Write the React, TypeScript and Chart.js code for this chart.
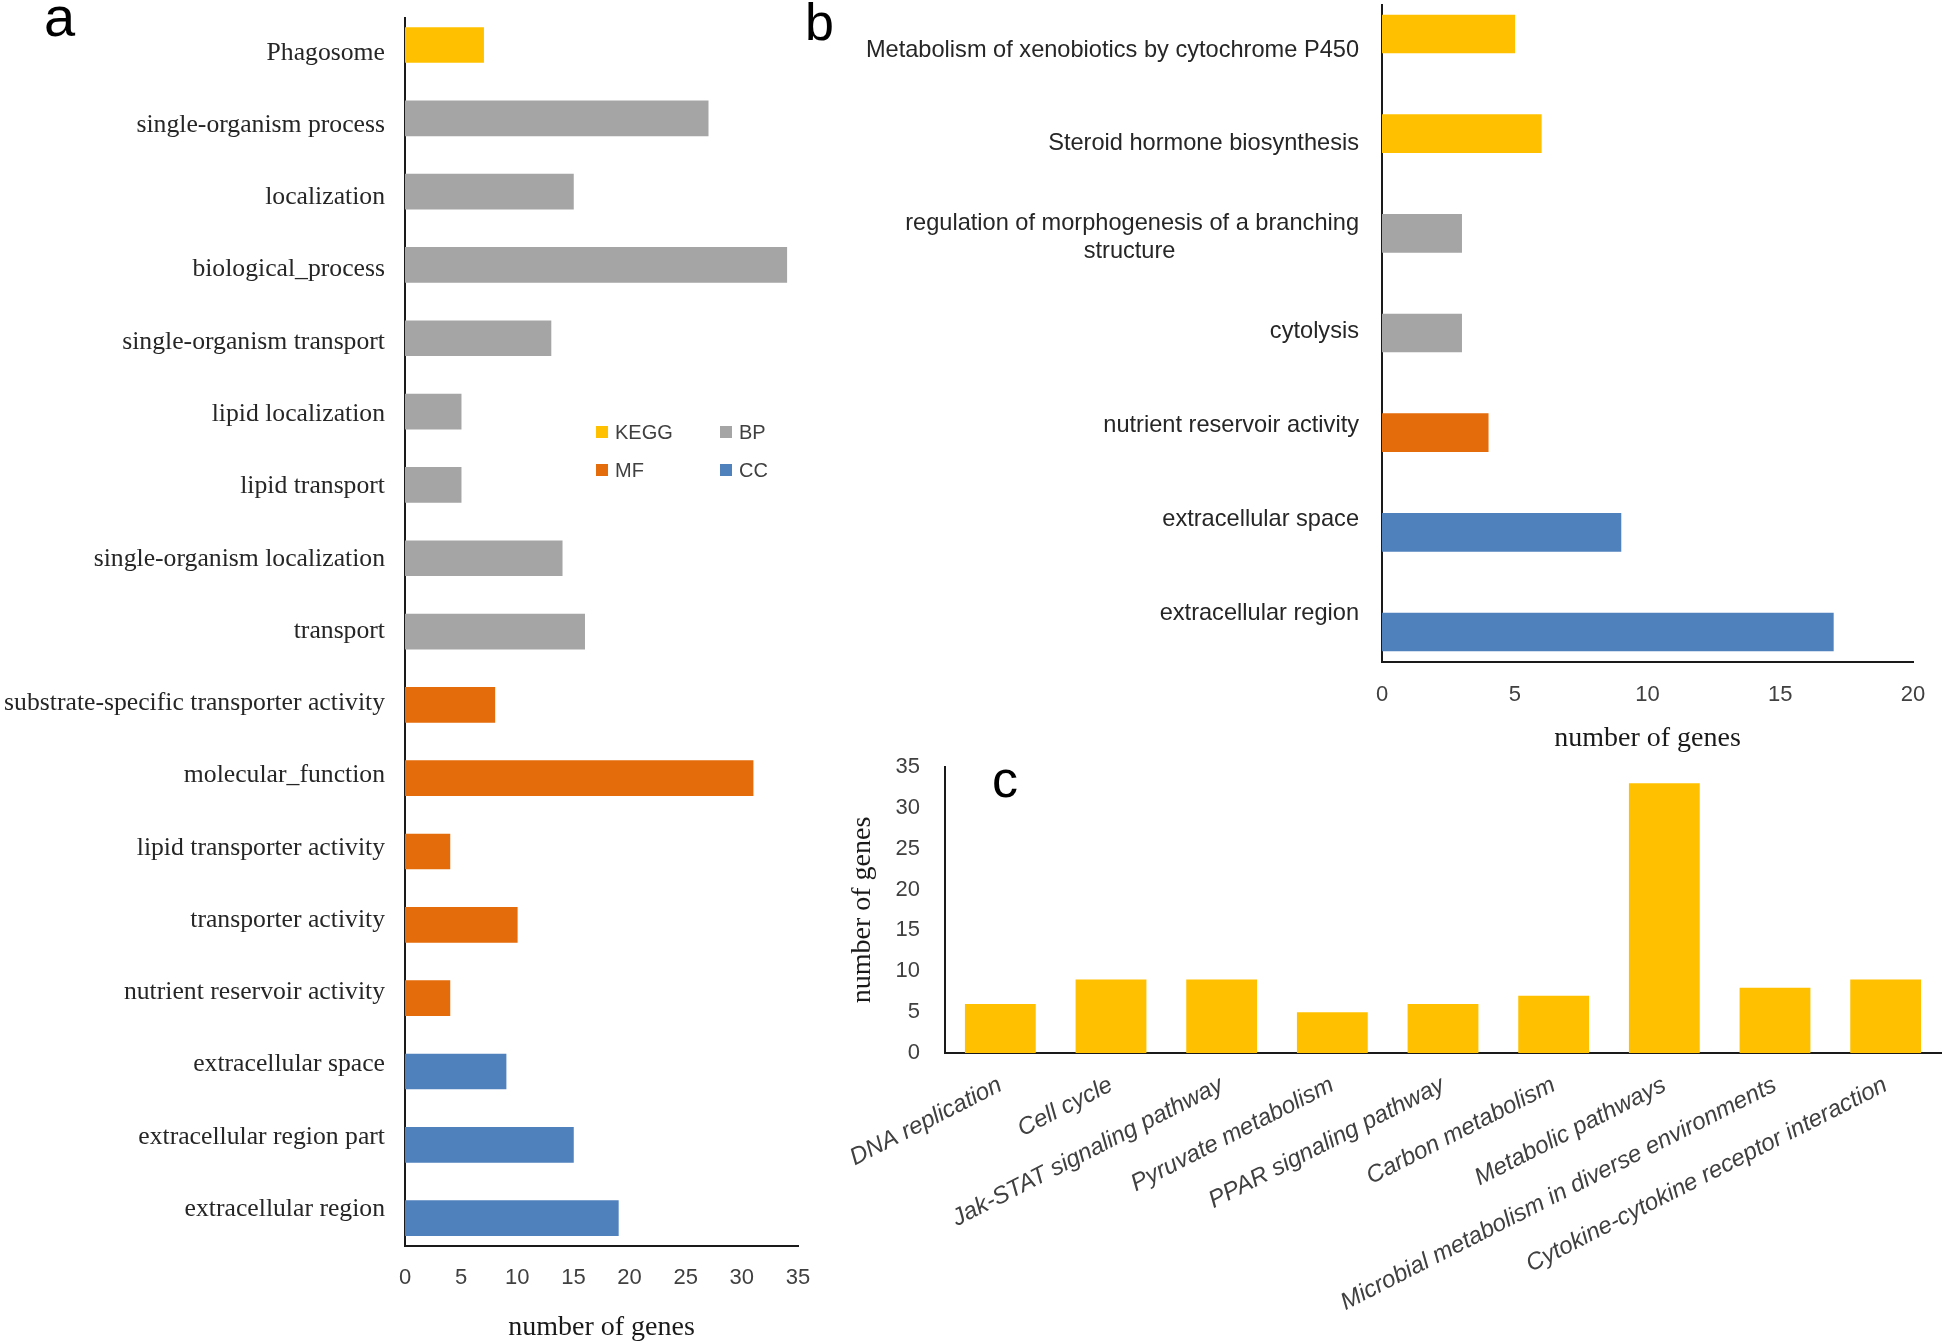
import React, { useEffect, useRef } from 'react';
import { Chart, registerables } from 'chart.js';

Chart.register(...registerables);

// ---------------- data: panel a ----------------
const categoriesA = [
  'Phagosome',
  'single-organism process',
  'localization',
  'biological_process',
  'single-organism transport',
  'lipid localization',
  'lipid transport',
  'single-organism localization',
  'transport',
  'substrate-specific transporter activity',
  'molecular_function',
  'lipid transporter activity',
  'transporter activity',
  'nutrient reservoir activity',
  'extracellular space',
  'extracellular region part',
  'extracellular region',
];
const valuesA = [7, 27, 15, 34, 13, 5, 5, 14, 16, 8, 31, 4, 10, 4, 9, 15, 19];
const groupsA = ['KEGG', 'BP', 'BP', 'BP', 'BP', 'BP', 'BP', 'BP', 'BP', 'MF', 'MF', 'MF', 'MF', 'MF', 'CC', 'CC', 'CC'];
const legendGroups = ['KEGG', 'BP', 'MF', 'CC'];

// ---------------- data: panel b ----------------
const categoriesB: (string | string[])[] = [
  'Metabolism of xenobiotics by cytochrome P450',
  'Steroid hormone biosynthesis',
  ['regulation of morphogenesis of a branching', 'structure'],
  'cytolysis',
  'nutrient reservoir activity',
  'extracellular space',
  'extracellular region',
];
const valuesB = [5, 6, 3, 3, 4, 9, 17];
const groupsB = ['KEGG', 'KEGG', 'BP', 'BP', 'MF', 'CC', 'CC'];

// ---------------- data: panel c ----------------
const categoriesC = [
  'DNA replication',
  'Cell cycle',
  'Jak-STAT signaling pathway',
  'Pyruvate metabolism',
  'PPAR signaling pathway',
  'Carbon metabolism',
  'Metabolic pathways',
  'Microbial metabolism in diverse environments',
  'Cytokine-cytokine receptor interaction',
];
const valuesC = [6, 9, 9, 5, 6, 7, 33, 8, 9];

const axisTitle = 'number of genes';

// ---------------- styles ----------------
const COLORS: Record<string, string> = { KEGG: '#FFC000', BP: '#A5A5A5', MF: '#E46C0A', CC: '#4F81BD' };
const SANS = '"Liberation Sans", Arial, sans-serif';
const SERIF = '"Liberation Serif", "Times New Roman", serif';
const AXIS_COLOR = '#1a1a1a';
const TICK_COLOR = '#404040';

function fixBox(w?: number, h?: number) {
  return (scale: any) => {
    if (w !== undefined) scale.width = w;
    if (h !== undefined) scale.height = h;
    scale.paddingTop = 0;
    scale.paddingBottom = 0;
    scale.paddingLeft = 0;
    scale.paddingRight = 0;
  };
}

function indexTicks(n: number) {
  return (scale: any) => {
    scale.ticks = Array.from({ length: n }, (_, i) => ({ value: i }));
  };
}

function centerLines(chart: any, lines: string[], font: string) {
  const ctx = chart.ctx;
  ctx.save();
  ctx.font = font;
  const widths = lines.map((l) => ctx.measureText(l).width);
  const max = Math.max(...widths);
  const sp = ctx.measureText(' ').width;
  ctx.restore();
  return lines.map((l, i) => l + ' '.repeat(Math.max(0, Math.round((max - widths[i]) / 2 / sp))));
}

const border = { display: true, color: AXIS_COLOR, width: 2 };
const noGrid = { display: false, drawTicks: false, offset: false };

const legendPlugin = {
  id: 'groupLegend',
  afterDraw(chart: any) {
    const { ctx, chartArea } = chart;
    ctx.save();
    ctx.font = `20px ${SANS}`;
    ctx.textBaseline = 'middle';
    ctx.textAlign = 'left';
    legendGroups.forEach((g, i) => {
      const col = i % 2;
      const row = Math.floor(i / 2);
      const x = chartArea.left + 191 + col * 124;
      const y = chartArea.top + 414 + row * 38;
      ctx.fillStyle = COLORS[g];
      ctx.fillRect(x, y - 6, 12, 12);
      ctx.fillStyle = TICK_COLOR;
      ctx.fillText(g, x + 19, y + 1);
    });
    ctx.restore();
  },
};

function configA(): any {
  return {
    type: 'bar',
    data: {
      datasets: [
        {
          data: valuesA.map((v, i) => ({ x: v, y: i })),
          backgroundColor: groupsA.map((g) => COLORS[g]),
          borderWidth: 0,
          barThickness: 35,
          xAxisID: 'x',
          yAxisID: 'y',
        },
      ],
    },
    options: {
      indexAxis: 'y',
      animation: false,
      responsive: false,
      layout: { padding: { top: 18, right: 32, left: 0, bottom: 0 } },
      plugins: { legend: { display: false }, tooltip: { enabled: false } },
      scales: {
        x: {
          type: 'linear',
          position: 'bottom',
          min: 0,
          max: 35,
          offset: false,
          grid: noGrid,
          border,
          ticks: { stepSize: 5, padding: 19, font: { family: SANS, size: 22 }, color: TICK_COLOR },
          title: { display: true, text: axisTitle, font: { family: SERIF, size: 28 }, color: '#1a1a1a', padding: { top: 0, bottom: 0 } },
          afterFit: fixBox(undefined, 98),
        },
        y: { type: 'linear', axis: 'y', position: 'left', display: false, offset: false, grid: noGrid, reverse: true, min: -0.368, max: 16.38 },
        yL: {
          type: 'linear',
          axis: 'y',
          position: 'left',
          reverse: true,
          offset: false,
          min: -0.484,
          max: 16.51,
          grid: noGrid,
          border,
          ticks: {
            autoSkip: false,
            padding: 20,
            font: { family: SERIF, size: 25.7 },
            color: '#262626',
            callback: (v: number) => categoriesA[v],
          },
          afterBuildTicks: indexTicks(categoriesA.length),
          afterFit: fixBox(405),
        },
      },
    },
    plugins: [legendPlugin],
  };
}

function configB(): any {
  const labelFont = { family: SANS, size: 23.6 };
  return {
    type: 'bar',
    data: {
      datasets: [
        {
          data: valuesB.map((v, i) => ({ x: v, y: i })),
          backgroundColor: groupsB.map((g) => COLORS[g]),
          borderWidth: 0,
          barThickness: 38,
          xAxisID: 'x',
          yAxisID: 'y',
        },
      ],
    },
    options: {
      indexAxis: 'y',
      animation: false,
      responsive: false,
      layout: { padding: { top: 5, right: 33, left: 0, bottom: 0 } },
      plugins: { legend: { display: false }, tooltip: { enabled: false } },
      scales: {
        x: {
          type: 'linear',
          position: 'bottom',
          min: 0,
          max: 20,
          offset: false,
          grid: noGrid,
          border,
          ticks: { stepSize: 5, padding: 20, font: { family: SANS, size: 22 }, color: TICK_COLOR },
          title: { display: true, text: axisTitle, font: { family: SERIF, size: 28 }, color: '#1a1a1a', padding: { top: 0, bottom: 5 } },
          afterFit: fixBox(undefined, 98),
        },
        y: { type: 'linear', axis: 'y', position: 'left', display: false, offset: false, grid: noGrid, reverse: true, min: -0.291, max: 6.301 },
        yL: {
          type: 'linear',
          axis: 'y',
          position: 'left',
          reverse: true,
          offset: false,
          min: -0.48,
          max: 6.52,
          grid: noGrid,
          border,
          ticks: {
            autoSkip: false,
            padding: 23,
            font: labelFont,
            color: '#262626',
            callback: function (this: any, v: number) {
              const l = categoriesB[v];
              if (Array.isArray(l)) return centerLines(this.chart, l, `${labelFont.size}px ${labelFont.family}`);
              return l;
            },
          },
          afterBuildTicks: indexTicks(categoriesB.length),
          afterFit: fixBox(552),
        },
      },
    },
  };
}

function configC(): any {
  return {
    type: 'bar',
    data: {
      labels: categoriesC,
      datasets: [
        {
          data: valuesC,
          backgroundColor: COLORS.KEGG,
          borderWidth: 0,
          barPercentage: 0.64,
          categoryPercentage: 1,
        },
      ],
    },
    options: {
      animation: false,
      responsive: false,
      layout: { padding: { top: 27, right: 5, left: 0, bottom: 0 } },
      plugins: { legend: { display: false }, tooltip: { enabled: false } },
      scales: {
        x: {
          type: 'category',
          grid: { display: false, drawTicks: false },
          border,
          ticks: {
            autoSkip: false,
            minRotation: 27,
            maxRotation: 27,
            padding: 18,
            font: { family: SANS, size: 24, style: 'italic' },
            color: TICK_COLOR,
          },
          afterFit: fixBox(undefined, 291),
        },
        y: {
          type: 'linear',
          min: 0,
          max: 35,
          grid: noGrid,
          border,
          ticks: { stepSize: 5, padding: 25, font: { family: SANS, size: 22 }, color: TICK_COLOR },
          title: { display: true, text: axisTitle, font: { family: SERIF, size: 28 }, color: '#1a1a1a', padding: { top: 16, bottom: 0 } },
          afterFit: fixBox(115),
        },
      },
    },
  };
}

function ChartCanvas(props: { make: () => any; left: number; top: number; width: number; height: number }) {
  const ref = useRef<HTMLCanvasElement | null>(null);
  useEffect(() => {
    if (!ref.current) return;
    const chart = new Chart(ref.current, props.make());
    return () => chart.destroy();
  }, []);
  return (
    <canvas
      ref={ref}
      width={props.width}
      height={props.height}
      style={{ position: 'absolute', left: props.left, top: props.top, width: props.width, height: props.height }}
    />
  );
}

const letterStyle = (left: number, top: number, size: number): React.CSSProperties => ({
  position: 'absolute',
  left,
  top,
  fontFamily: SANS,
  fontSize: size,
  lineHeight: 1,
  color: '#000',
});

export default function App() {
  return (
    <div style={{ position: 'absolute', left: 0, top: 0, width: 1946, height: 1344, background: '#fff', overflow: 'hidden' }}>
      <ChartCanvas make={configA} left={0} top={0} width={830} height={1344} />
      <ChartCanvas make={configB} left={830} top={0} width={1116} height={760} />
      <ChartCanvas make={configC} left={830} top={740} width={1116} height={604} />
      <div style={letterStyle(44, -11, 56)}>a</div>
      <div style={letterStyle(805, -4, 52)}>b</div>
      <div style={letterStyle(992, 753, 52)}>c</div>
    </div>
  );
}
